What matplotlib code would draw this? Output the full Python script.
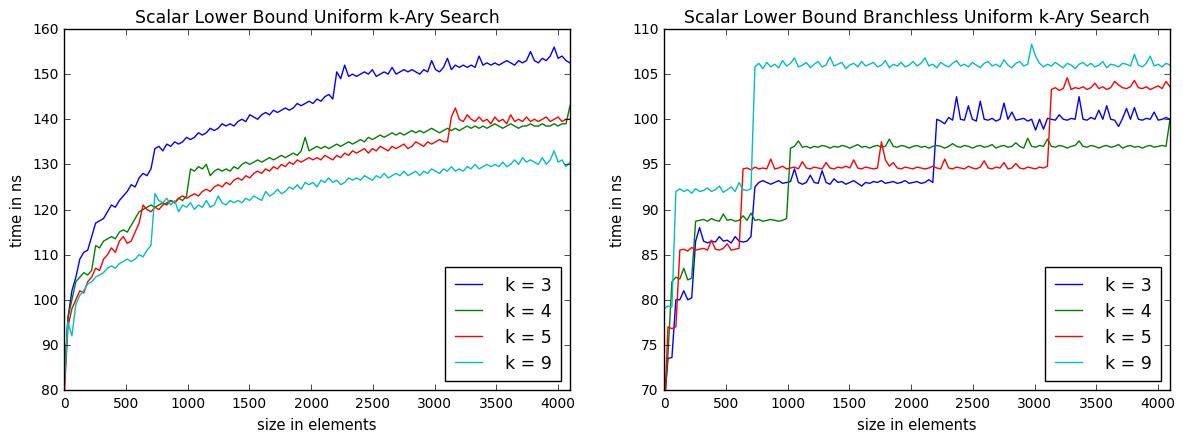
import numpy as np
import matplotlib
matplotlib.use("Agg")
import matplotlib.pyplot as plt

# sizes in elements (shared x grid)
sizes = np.arange(0, 4097, 32)

# scalar lower bound uniform k-ary search (ns)
plain_k3 = [80, 96, 102, 105, 109, 110.5, 111, 114, 117, 117.5, 118, 119.5, 121, 120.5, 122, 123,
            124, 125.5, 125, 127, 128, 127.5, 129, 133.5, 134, 133, 134.5, 134, 135, 134.5, 135, 136,
            135.5, 136, 137, 136.5, 137, 138, 137.5, 138, 139, 138.5, 139, 138.5, 139.5, 140, 139.5, 141,
            140.5, 140, 141, 141.5, 141, 142, 141.5, 142, 142.5, 142, 142.5, 143.5, 143, 143.5, 144, 143.5,
            144.5, 144, 145, 145.5, 144.5, 150.5, 149, 152, 149.5, 150, 149.5, 150, 150.5, 150, 151, 149.5,
            150, 150.5, 150, 151.5, 150, 150.5, 151, 150.5, 151, 150.5, 150, 151, 150.5, 153, 151, 150.5,
            151.5, 153.5, 151, 152, 151.5, 152, 151.5, 152, 151.5, 154, 152, 152.5, 152, 152.5, 152, 152.5,
            153, 152.5, 152, 153, 152.5, 153, 155, 153, 152.5, 153.5, 153, 154, 156, 153.5, 154, 153, 152.5]
plain_k4 = [80, 96, 100, 104, 105, 106, 105.5, 106.5, 112, 111.5, 113, 113.5, 114, 113.5, 115, 115.5,
            115, 116.5, 118, 119.5, 120, 120.5, 121, 120.5, 121, 121.5, 121, 122, 121.5, 122.5, 122, 123,
            129, 128.5, 129.5, 129, 130, 127.5, 128.5, 129, 128.5, 129, 128.5, 129.5, 129, 130, 130.5, 130,
            130.5, 131, 130.5, 131, 131.5, 131, 131.5, 132, 131.5, 132, 132.5, 132, 133, 136, 133, 133.5,
            134, 133.5, 134, 133.5, 134, 134.5, 134, 134.5, 135, 134.5, 135, 135.5, 135, 136, 135.5, 136,
            136.5, 136, 136.5, 137, 136.5, 137, 136.5, 137, 137.5, 137, 137.5, 137, 137.5, 138, 137.5, 137,
            137.5, 138, 137.5, 138, 137.5, 138, 138.5, 138, 138.5, 138, 138.5, 138, 138.5, 139, 138.5, 138,
            138.5, 139, 138.5, 138, 138.5, 138.5, 139, 138.5, 138.5, 139, 138.5, 138.5, 139, 138.5, 139, 139, 143]
plain_k5 = [78, 94, 98, 100, 102, 101.5, 104, 105, 107, 106.5, 109, 110, 111.5, 110.5, 113, 114,
            112.5, 113, 115, 117, 121, 120, 119.5, 120.5, 120, 121, 121.5, 122, 121.5, 122.5, 123, 122.5,
            123, 123.5, 123, 124, 124.5, 124, 125, 125.5, 125, 126, 125.5, 126.5, 127, 126.5, 127.5, 127,
            128, 128.5, 128, 129, 128.5, 129.5, 129, 130, 129.5, 130.5, 130, 131, 130.5, 131, 131.5, 131,
            131.5, 131, 132, 131.5, 131, 132, 131.5, 132.5, 132, 133, 132.5, 133, 133.5, 132.5, 133.5, 133,
            134, 133.5, 133, 134, 133.5, 134, 134.5, 133.5, 134, 135, 134.5, 134, 135, 134.5, 135, 135.5,
            135, 135, 140.5, 142.5, 140, 139.5, 141, 140, 139.5, 140.5, 139.5, 140, 139, 140.5, 139.5, 140,
            139, 141, 139.5, 140, 139.5, 140.5, 139.5, 140, 139.5, 140, 140.5, 139.5, 140, 140.5, 139.5, 140, 140]
plain_k9 = [80, 95, 92, 99, 101, 102, 103.5, 104, 105, 105.5, 106, 107, 107.5, 107, 108, 108.5,
            109, 108.5, 109, 110, 109.5, 111, 112, 123.5, 122, 121.5, 122.5, 121, 122, 119.5, 121, 120.5,
            121.5, 120, 121, 120.5, 122, 120.5, 121, 123, 121.5, 121, 122, 121.5, 122, 121.5, 122.5, 122,
            123, 122.5, 122, 124, 123, 123.5, 124.5, 123.5, 124, 125, 124.5, 125.5, 124.5, 126, 125.5, 126,
            125, 126.5, 126, 127, 126, 126.5, 125.5, 126, 127, 126.5, 127, 126.5, 127.5, 127, 126.5, 127.5,
            127, 128, 127, 127.5, 128, 127.5, 128.5, 127.5, 128, 128.5, 127.5, 128.5, 128, 129, 128.5, 128,
            129, 128.5, 129.5, 128.5, 129, 128.5, 129.5, 129, 130, 129, 129.5, 130, 129.5, 130, 129.5, 130.5,
            129.5, 130, 131, 130, 131.5, 130.5, 131, 130.5, 130, 131.5, 130, 131, 133, 130.5, 131, 129.5, 130.5]

# scalar lower bound branchless uniform k-ary search (ns)
branchless_k3 = [68, 73.5, 73.6, 80, 80, 81, 80, 80.2, 86.5, 88, 86.5, 86.3, 86.5, 86.4, 87, 86.5,
                 86.6, 86.3, 87, 86.5, 86.4, 86.5, 87, 92.5, 93, 93.2, 93, 92.8, 93, 93.2, 92.9, 93,
                 93.1, 94.5, 93, 92.8, 93, 93.8, 93, 92.9, 94.3, 93, 92.8, 93.4, 93, 93.1, 92.8, 93,
                 93.2, 92.9, 92.6, 93, 92.9, 93.1, 93, 93.2, 92.9, 93, 93.1, 92.9, 93, 93.2, 92.9, 93,
                 93.1, 92.9, 93, 93.3, 93, 100, 99.8, 99.5, 100.2, 99.9, 102.5, 100, 99.9, 101.5, 100, 99.8,
                 102, 100, 99.9, 100.1, 99.8, 100, 101.8, 100, 100.8, 99.9, 100, 100.1, 99.8, 100, 98.8, 100,
                 98.9, 100.1, 100, 99.9, 100.5, 100, 99.9, 100.1, 100, 102.5, 100, 99.9, 100.2, 100, 101, 100,
                 101.5, 100, 99.9, 99.2, 100.1, 101.2, 100, 101.3, 100, 99.9, 100.1, 100, 100.8, 99.9, 100, 100.2, 100]
branchless_k4 = [68, 74, 82, 82.5, 82.3, 83.5, 82.2, 82.4, 88.7, 88.8, 88.9, 88.7, 89, 88.8, 88.7, 89.5,
                 88.8, 88.9, 88.7, 88.8, 89.3, 88.8, 89.6, 88.8, 88.9, 88.7, 88.8, 88.9, 88.8, 88.7, 88.8, 89,
                 96.8, 97, 97.6, 96.9, 97, 96.8, 97, 96.9, 97.1, 97, 96.8, 97, 96.9, 97.1, 97, 96.8,
                 97, 97.2, 96.9, 97, 96.8, 97, 97.1, 96.9, 97, 97.8, 97, 96.9, 97.1, 97, 96.8, 97,
                 97.1, 96.9, 97, 96.8, 97, 97.1, 97, 96.8, 97, 97.3, 97, 96.9, 97.1, 97, 96.8, 97,
                 97.1, 96.9, 97, 97.2, 96.8, 97, 97.1, 96.9, 97, 97.4, 97, 96.8, 97.9, 97, 96.9, 97.1,
                 97, 97.8, 97, 96.9, 97.1, 97, 96.8, 97, 97.1, 97.6, 97, 96.9, 97.1, 97, 96.8, 97,
                 97.1, 96.9, 97, 97.2, 96.8, 97, 97.1, 96.9, 97, 96.8, 97, 97.1, 96.9, 97, 97.1, 97, 100]
branchless_k5 = [66, 77, 76.8, 77, 85.5, 85.6, 85.4, 85.8, 85.5, 85.6, 85.7, 85.5, 86.6, 85.6, 85.5, 85.7,
                 86.2, 85.5, 85.6, 85.7, 94.5, 94.6, 94.4, 94.7, 94.5, 94.6, 94.5, 95.6, 94.5, 94.6, 94.8, 94.5,
                 94.6, 94.7, 94.5, 95.3, 94.6, 94.5, 94.7, 94.6, 94.5, 95.2, 94.6, 94.5, 94.7, 94.6, 94.8, 94.6,
                 95.5, 94.6, 94.5, 94.7, 94.6, 94.5, 94.6, 97.5, 95.5, 94.8, 95.2, 94.6, 94.5, 94.7, 94.6, 94.5,
                 94.7, 94.6, 94.5, 94.6, 94.8, 94.6, 94.5, 95.6, 94.6, 94.5, 94.7, 94.6, 94.5, 94.8, 94.6, 94.5,
                 94.7, 95.4, 94.6, 94.5, 94.7, 94.6, 95.2, 94.5, 94.6, 95.1, 94.6, 94.5, 94.7, 94.6, 94.5, 94.7,
                 94.6, 94.8, 103.3, 103.5, 103.2, 103.4, 104.6, 103.3, 103.5, 103.4, 103.6, 103.3, 103.5, 104, 103.4, 103.6,
                 103.3, 103.5, 104.2, 103.8, 103.5, 103.4, 103.6, 104.3, 103.5, 103.4, 103.6, 103.3, 103.5, 103.7, 103.4, 104.2, 103.6]
branchless_k9 = [79, 79.3, 79.2, 92, 92.3, 92, 92.2, 91.8, 92.3, 92, 92.1, 92.4, 92, 92.2, 92.6, 91.9,
                 92.2, 92.5, 92, 93, 92.2, 92.1, 92.3, 105.8, 106.2, 105.6, 106.3, 105.8, 106.1, 105.7, 106.5, 105.9,
                 106.2, 106.8, 105.8, 106, 106.3, 105.7, 106.1, 106.4, 105.8, 106, 106.9, 105.9, 106.1, 106.3, 105.6, 106,
                 106.2, 105.8, 106.4, 105.9, 106.1, 106.3, 105.8, 106, 106.5, 105.7, 106.1, 105.9, 106.3, 105.8, 106, 106.4,
                 105.9, 106.2, 106.8, 105.9, 106.1, 105.7, 106.3, 106, 105.8, 106.2, 106.5, 105.9, 106.1, 105.8, 106.3, 106,
                 105.7, 106.2, 106.4, 105.9, 106.1, 105.8, 106.6, 106, 105.7, 106.2, 106.4, 105.9, 106.1, 108.3, 107, 106.2,
                 105.8, 106.1, 105.9, 106.3, 106, 105.7, 106.2, 106, 105.6, 106.1, 106.3, 105.9, 106.2, 105.8, 106, 106.4,
                 105.7, 106.1, 106, 105.8, 106.2, 106.1, 105.9, 107.2, 106, 105.8, 106.2, 107, 105.9, 106.1, 105.8, 106.2, 106]

labels = ["k = 3", "k = 4", "k = 5", "k = 9"]
colors = ["b", "g", "r", "c"]

plt.style.use("classic")
plt.rcParams["font.family"] = "DejaVu Sans"

fig = plt.figure(figsize=(11.83, 4.35), dpi=100, facecolor="white")
ax1 = fig.add_axes([0.0541, 0.1011, 0.4277, 0.8299])
ax2 = fig.add_axes([0.5613, 0.1011, 0.4277, 0.8299])

panels = [
    (ax1, [plain_k3, plain_k4, plain_k5, plain_k9], "Scalar Lower Bound Uniform k-Ary Search", (80, 160), 10),
    (ax2, [branchless_k3, branchless_k4, branchless_k5, branchless_k9],
     "Scalar Lower Bound Branchless Uniform k-Ary Search", (70, 110), 5),
]

for ax, series, title, ylim, ystep in panels:
    for vals, lab, col in zip(series, labels, colors):
        ax.plot(sizes, vals, color=col, linewidth=1.0, label=lab)
    ax.set_xlim(0, 4096)
    ax.set_ylim(*ylim)
    ax.set_xticks(np.arange(0, 4001, 500))
    ax.set_yticks(np.arange(ylim[0], ylim[1] + 1, ystep))
    ax.set_title(title, fontsize=12.5)
    ax.set_xlabel("size in elements", fontsize=10.5)
    ax.set_ylabel("time in ns", fontsize=10.5)
    ax.tick_params(axis="both", labelsize=10)
    ax.legend(loc="lower right", fontsize=12.5, frameon=True, fancybox=False, numpoints=1,
              handlelength=1.6, handletextpad=1.3, borderpad=0.55, labelspacing=0.45)

fig.savefig("out.png", dpi=100, facecolor="white")
